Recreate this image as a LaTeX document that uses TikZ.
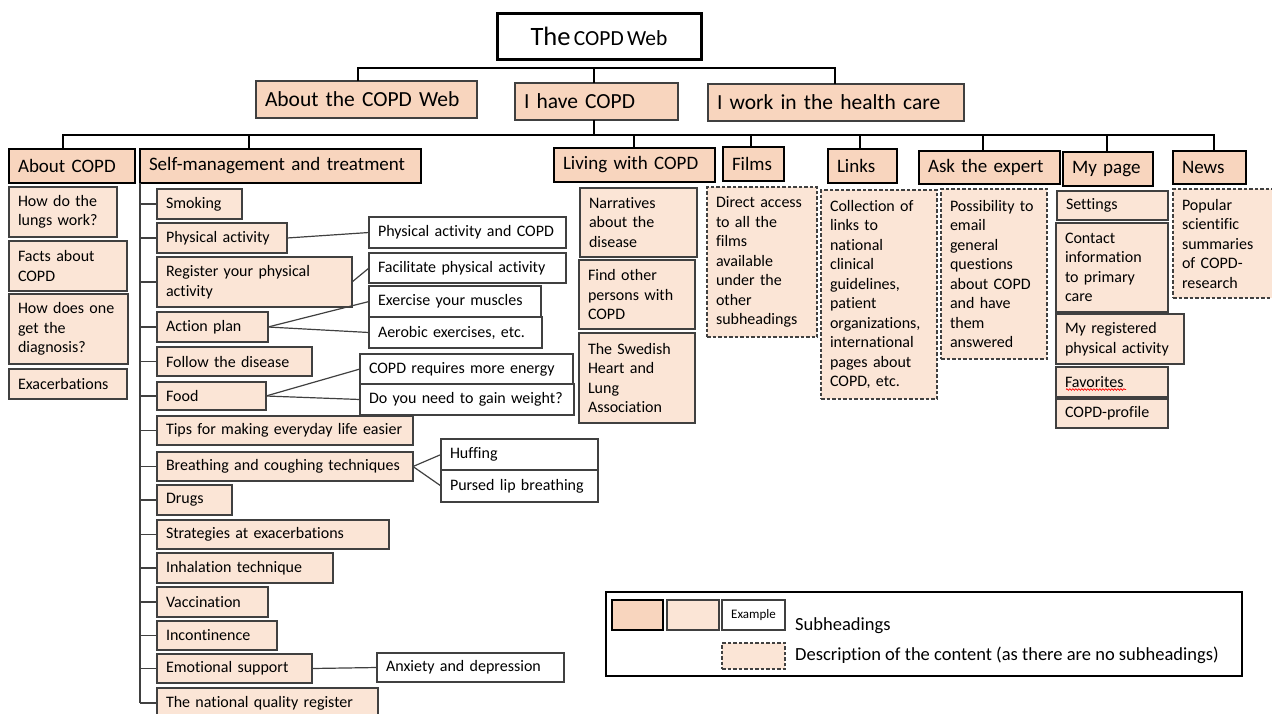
\documentclass[tikz,border=0pt]{standalone}
\usepackage{fontspec}
\setmainfont{Carlito}[Ligatures=NoCommon]
\usetikzlibrary{decorations.pathmorphing}
\definecolor{headfill}{HTML}{F8D5BE}
\definecolor{subfill}{HTML}{FBE5D6}
\definecolor{edge}{HTML}{404040}
\newcommand\fsub{\fontsize{16}{19.5}\selectfont}
\newcommand\fhead{\fontsize{19}{23}\selectfont}
\newcommand\ftop{\fontsize{21.5}{26}\selectfont}
\newcommand\fleg{\fontsize{18.5}{22}\selectfont}
\newcommand\bx[7]{%
  \pgfmathsetmacro\bxw{#4-#2-18}%
  \pgfmathsetmacro\bxh{#5-#3}%
  \pgfmathsetmacro\bxx{(#2+#4)/2}%
  \pgfmathsetmacro\bxy{(#3+#5)/2}%
  \node[#6, text width=\bxw pt, minimum height=\bxh pt] (#1) at (\bxx,\bxy) {#7};}
\tikzset{
  base/.style={rectangle, inner xsep=9pt, inner ysep=0pt, align=left, outer sep=0pt},
  titlebox/.style={base, draw=black, line width=3pt, fill=white, align=center},
  topbox/.style={base, draw=edge, line width=1.5pt, fill=headfill, font=\ftop},
  headbox/.style={base, draw=black, line width=1.9pt, fill=headfill, font=\fhead},
  subbox/.style={base, draw=edge, line width=1.3pt, fill=subfill, font=\fsub},
  whitebox/.style={base, draw=edge, line width=1.3pt, fill=white, font=\fsub},
  descbox/.style={base, draw=edge, line width=1.2pt, dash pattern=on 3.5pt off 2pt, fill=subfill, font=\fsub},
  conn/.style={draw=edge, line width=1.2pt},
  bus/.style={draw=black, line width=1.5pt},
}
\begin{document}
\begin{tikzpicture}[x=1pt,y=-1pt]
\clip (0,0) rectangle (1272,713);
% title and level 1
\bx{title}{497}{13}{701}{59}{titlebox}{{\fontsize{26.5}{30}\selectfont The} {\fontsize{21.5}{26}\selectfont COPD Web}}
\bx{atw}{256}{81}{477}{118}{topbox}{About the COPD Web}
\bx{ihc}{515}{83}{678}{120}{topbox}{I have COPD}
\bx{iw}{708}{84}{964}{121}{topbox}{I work in the health care}
% level 2 headings
\bx{h1}{9}{149}{135}{183}{headbox}{About COPD}
\bx{h2}{140}{149}{421}{183}{headbox}{Self-management and treatment}
\bx{h3}{554}{148}{715}{182}{headbox}{Living with COPD}
\bx{h4}{723}{147}{784}{181}{headbox}{Films}
\bx{h5}{828}{149}{897}{183}{headbox}{Links}
\bx{h6}{919}{151}{1060}{184}{headbox}{Ask the expert}
\bx{h7}{1063}{152}{1153}{186}{headbox}{My page}
\bx{h8}{1173}{151}{1246}{184}{headbox}{News}
% bus lines
\coordinate (b1) at (358,68);
\coordinate (b2) at (594,68);
\coordinate (b3) at (835,68);
\draw[bus] (atw.north -| b1) -- (b1) -- (b3) -- (iw.north -| b3);
\draw[bus] (b2) -- (ihc.north -| b2);
\coordinate (c0) at (594,135);
\coordinate (c1) at (63,135);
\coordinate (c2) at (249,135);
\coordinate (c3) at (634,135);
\coordinate (c4) at (751,135);
\coordinate (c5) at (860,135);
\coordinate (c6) at (983,135);
\coordinate (c7) at (1107,135);
\coordinate (c8) at (1214,135);
\draw[bus] (ihc.south -| c0) -- (c0);
\draw[bus] (h1.north -| c1) -- (c1) -- (c8) -- (h8.north -| c8);
\foreach \i in {2,...,7}{\draw[bus] (c\i) -- (h\i.north -| c\i);}
% About COPD
\bx{a1}{9}{187}{117}{237}{subbox}{How do the\\lungs work?}
\bx{a2}{9}{241}{127}{291}{subbox}{Facts about\\COPD}
\bx{a3}{9}{294}{128}{364}{subbox}{How does one\\get the\\diagnosis?}
\bx{a4}{9}{369}{127}{399}{subbox}{Exacerbations}
% Self-management
\bx{s1}{157}{189}{242}{219}{subbox}{Smoking}
\bx{s2}{157}{223}{287}{253}{subbox}{Physical activity}
\bx{s3}{157}{257}{352}{307}{subbox}{Register your physical\\activity}
\bx{s4}{157}{312}{268}{342}{subbox}{Action plan}
\bx{s5}{157}{347}{312}{376}{subbox}{Follow the disease}
\bx{s6}{157}{382}{266}{410}{subbox}{Food}
\bx{s7}{157}{416}{413}{445}{subbox}{Tips for making everyday life easier}
\bx{s8}{157}{452}{413}{481}{subbox}{Breathing and coughing techniques}
\bx{s9}{157}{485}{232}{515}{subbox}{Drugs}
\bx{s10}{157}{520}{389}{549}{subbox}{Strategies at exacerbations}
\bx{s11}{157}{553}{333}{583}{subbox}{Inhalation technique}
\bx{s12}{157}{587}{268}{617}{subbox}{Vaccination}
\bx{s13}{157}{621}{277}{650}{subbox}{Incontinence}
\bx{s14}{157}{654}{312}{683}{subbox}{Emotional support}
\bx{s15}{157}{688}{378}{718}{subbox}{The national quality register}
\draw[conn] (h2.south west) -- (h2.south west |- s15.west);
\foreach \i in {1,...,15}{\draw[conn] (s\i.west -| h2.south west) -- (s\i.west);}
% white sub-subheadings
\bx{w1}{369}{217}{566}{248}{whitebox}{Physical activity and COPD}
\bx{w2}{369}{253}{566}{283}{whitebox}{Facilitate physical activity}
\bx{w3}{369}{286}{541}{317}{whitebox}{Exercise your muscles}
\bx{w4}{369}{317}{542}{348}{whitebox}{Aerobic exercises, etc.}
\bx{w5}{360}{354}{573}{384}{whitebox}{COPD requires more energy}
\bx{w6}{360}{384}{574}{415}{whitebox}{Do you need to gain weight?}
\bx{w7}{441}{439}{598}{470}{whitebox}{Huffing}
\bx{w8}{441}{470}{598}{502}{whitebox}{Pursed lip breathing}
\bx{w9}{377}{653}{564}{682}{whitebox}{Anxiety and depression}
\draw[conn] (s2.east) -- (w1.west);
\draw[conn] (s3.east) -- (w2.west);
\draw[conn] (s4.east) -- (w3.west);
\draw[conn] (s4.east) -- (w4.west);
\draw[conn] (s6.east) -- (w5.west);
\draw[conn] (s6.east) -- (w6.west);
\draw[conn] (s8.east) -- (w7.west);
\draw[conn] (s8.east) -- (w8.west);
\draw[conn] (s14.east) -- (w9.west);
% Living with COPD
\bx{l1}{580}{188}{697}{257}{subbox}{Narratives\\about the\\disease}
\bx{l2}{579}{260}{695}{329}{subbox}{Find other\\persons with\\COPD}
\bx{l3}{579}{333}{695}{423}{subbox}{The Swedish\\Heart and\\Lung\\Association}
% descriptions
\bx{d4}{707}{187}{817}{337}{descbox}{Direct access\\to all the\\films\\available\\under the\\other\\subheadings}
\bx{d5}{821}{190}{937}{399}{descbox}{Collection of\\links to\\national\\clinical\\guidelines,\\patient\\organizations,\\international\\pages about\\COPD, etc.}
\bx{d6}{941}{189}{1047}{359}{descbox}{Possibility to\\email\\general\\questions\\about COPD\\and have\\them\\answered}
\bx{d8}{1173}{189}{1282}{298}{descbox}{Popular\\scientific\\summaries\\of COPD-\\research}
% My page
\bx{m1}{1057}{191}{1168}{220}{subbox}{Settings}
\bx{m2}{1056}{223}{1168}{312}{subbox}{Contact\\information\\to primary\\care}
\bx{m3}{1056}{314}{1184}{364}{subbox}{My registered\\physical activity}
\bx{m4}{1056}{367}{1168}{397}{subbox}{Favorites}
\bx{m5}{1056}{399}{1168}{428}{subbox}{COPD-profile}
\draw[red, line width=0.7pt, decorate, decoration={snake, amplitude=0.8pt, segment length=3pt}] (1066,389.5) -- (1126,389.5);
% legend
\bx{lg}{606}{592}{1242}{676}{base, draw=black, line width=1.5pt}{}
\bx{lb1}{612}{600}{663}{630}{headbox}{}
\bx{lb2}{667}{600}{719}{630}{subbox}{}
\node[whitebox, inner sep=0pt, minimum width=63pt, minimum height=30pt, align=center, font=\fontsize{13}{15}\selectfont] (lb3) at (753.5,615) {Example};
\bx{lb4}{722}{643}{785}{669}{descbox}{}
\node[anchor=west, inner sep=0pt, font=\fleg] (lt1) at (795,626) {Subheadings};
\node[anchor=west, inner sep=0pt, font=\fleg] (lt2) at (795,655) {Description of the content (as there are no subheadings)};
\end{tikzpicture}
\end{document}
